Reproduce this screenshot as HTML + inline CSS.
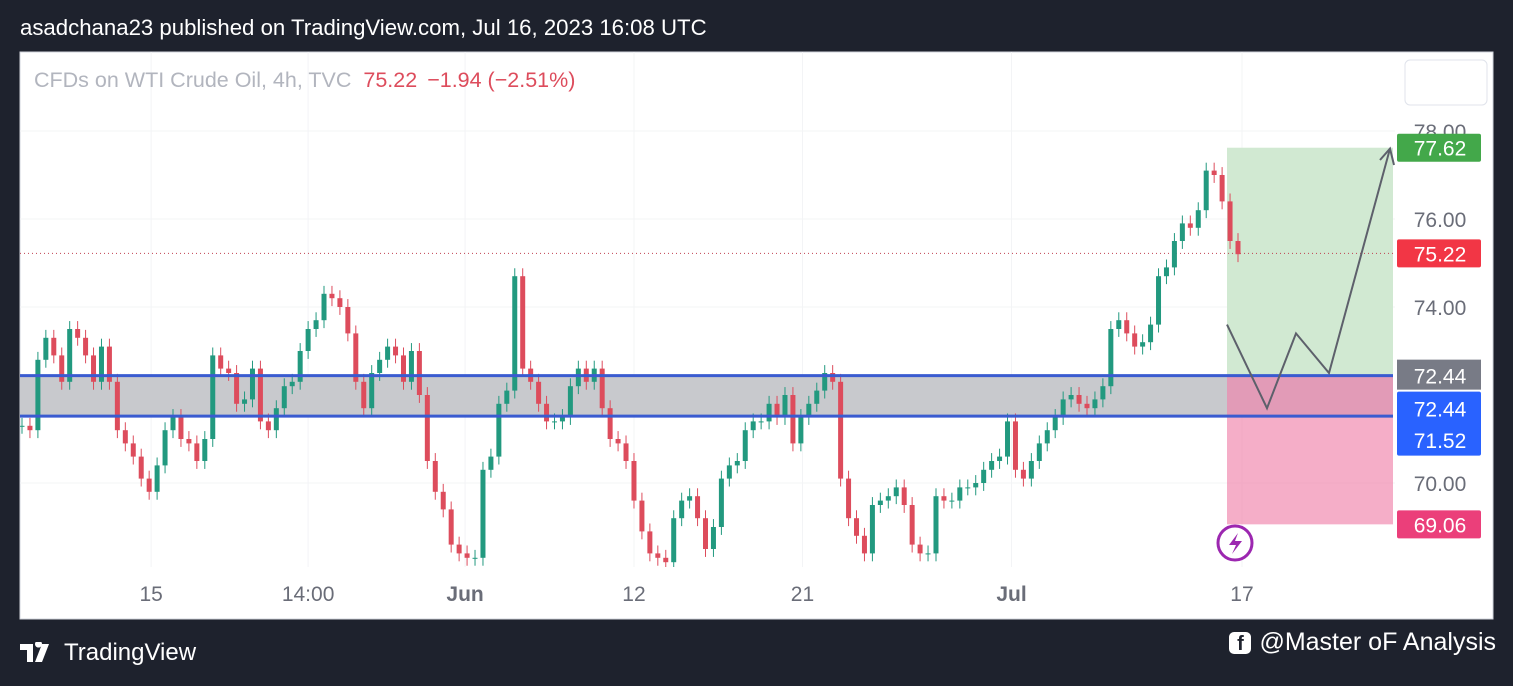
<!DOCTYPE html>
<html><head><meta charset="utf-8"><style>
body{margin:0;width:1513px;height:686px;background:#1e222d;overflow:hidden;font-family:"Liberation Sans",sans-serif}
#hdr{position:absolute;left:20px;top:15px;color:#fff;font-size:22.2px}
#ftr-l{position:absolute;left:20px;top:639px;color:#fff;font-size:24px;display:flex;align-items:center;gap:8px}
#ftr-r{position:absolute;right:17px;top:628px;color:#fff;font-size:25px;display:flex;align-items:center;gap:8px}
svg{position:absolute;left:0;top:0}
</style></head><body>
<div id="hdr">asadchana23 published on TradingView.com, Jul 16, 2023 16:08 UTC</div>
<svg id="chart" width="1513" height="686"></svg>
<div id="ftr-l"><svg width="36" height="22" style="position:static" viewBox="0 0 36 22"><path d="M0 2h13v18H7V8H0z M15 2a3.5 3.5 0 1 1 0 .1z" fill="#fff"/><path d="M22 2h7l-7 18h-7z" fill="#fff"/></svg><span>TradingView</span></div>
<div id="ftr-r"><span style="display:inline-block;width:22px;height:22px;background:#fff;border-radius:5px;color:#1e222d;font-weight:bold;font-size:20px;text-align:center;line-height:24px">f</span><span>@Master oF Analysis</span></div>
<script>
const closes=[71.3,71.2,72.8,73.3,72.9,72.3,73.5,73.3,72.9,72.3,73.1,72.3,71.2,70.9,70.6,70.1,69.8,70.4,71.2,71.5,71.0,70.9,70.5,71.0,72.9,72.6,72.5,71.8,71.9,72.6,71.4,71.2,71.7,72.2,72.3,73.0,73.5,73.7,74.3,74.2,74.0,73.4,72.3,71.7,72.5,72.8,73.1,72.9,72.3,73.0,72.0,70.5,69.8,69.4,68.6,68.4,68.3,68.3,70.3,70.6,71.8,72.1,74.7,72.6,72.3,71.8,71.4,71.4,71.5,72.2,72.6,72.3,72.6,71.7,71.0,70.9,70.5,69.6,68.9,68.4,68.3,68.2,69.2,69.6,69.7,69.2,68.5,69.0,70.1,70.4,70.5,71.2,71.4,71.4,71.8,71.5,72.0,70.9,71.5,71.8,72.1,72.5,72.3,70.1,69.2,68.8,68.4,69.5,69.6,69.7,69.9,69.5,68.6,68.4,68.4,69.7,69.6,69.6,69.9,69.9,70.0,70.3,70.5,70.6,71.4,70.3,70.1,70.5,70.9,71.2,71.5,71.9,72.0,71.8,71.7,71.9,72.2,73.5,73.7,73.4,73.1,73.2,73.6,74.7,74.9,75.5,75.9,75.8,76.2,77.1,77.0,76.4,75.5,75.2];
const priceTicks=[78,76,74,70];
const timeLabels=["15","14:00","Jun","12","21","Jul","17"];
const timeIdx=[16.25,36,55.75,77,98.2,124.5,153.5];
const zoneTop=72.44, zoneBot=71.52, target=77.62, stop=69.06, last=75.22;
const pathPrices=[73.6,71.7,73.4,72.5,77.6];

const NS="http://www.w3.org/2000/svg";
const svg=document.getElementById('chart');
function el(t,a,p){const e=document.createElementNS(NS,t);for(const k in a)e.setAttribute(k,a[k]);(p||svg).appendChild(e);return e;}
const y=p=>219-(p-76)*44;
const x0=22,x1=1238;
const x=i=>x0+i*(x1-x0)/(closes.length-1);

let r=el('rect',{x:20,y:52,width:1473,height:567,fill:'#fff',stroke:'#d1d4dc'});


const clip=el('clipPath',{id:'pc'});el('rect',{x:20,y:52,width:1375,height:515},clip);
const g=el('g',{'clip-path':'url(#pc)'});
timeIdx.forEach(i=>el('line',{x1:x(i),x2:x(i),y1:52,y2:567,stroke:'#f3f4f6'},g));
priceTicks.forEach(p=>el('line',{x1:20,x2:1395,y1:y(p),y2:y(p),stroke:'#f3f4f6'},g));
let z=el('rect',{x:20,y:y(zoneTop),width:1373,height:y(zoneBot)-y(zoneTop),fill:'#c8c9cd'},g);


let tp=el('rect',{x:1227,y:y(target),width:166,height:y(zoneTop)-y(target),fill:'#d1e9d2'},g);


let sl=el('rect',{x:1227,y:y(zoneTop),width:166,height:y(stop)-y(zoneTop),fill:'rgba(240,130,170,0.65)'},g);


el('line',{x1:20,x2:1395,y1:y(last),y2:y(last),stroke:'#c04050','stroke-dasharray':'1 3'},g);
closes.forEach((c,i)=>{
  const o=i?closes[i-1]:c;const up=c>=o;const col=up?'#22997f':'#dd4c5c';
  const hi=Math.max(o,c)+0.18,lo=Math.min(o,c)-0.18;
  const cg=el('g',{},g);
  
  
  el('line',{x1:x(i),x2:x(i),y1:y(hi),y2:y(lo),stroke:col,'stroke-width':1},cg);
  el('rect',{x:x(i)-2.5,y:y(Math.max(o,c)),width:5,height:Math.max(1,Math.abs(y(o)-y(c))),fill:col},cg);
});
[zoneTop,zoneBot].forEach(p=>{const l=el('line',{x1:20,x2:1393,y1:y(p),y2:y(p),stroke:'#3a5bd0','stroke-width':3},g);

});
const px=[1227,1267,1296,1329,1390];
const pl=el('polyline',{points:px.map((v,i)=>v+','+y(pathPrices[i])).join(' '),fill:'none',stroke:'#5d606b','stroke-width':2});


el('polyline',{points:`1380,160 1390,${y(pathPrices[4])} 1394,165`,fill:'none',stroke:'#5d606b','stroke-width':2});
priceTicks.forEach(p=>{const t=el('text',{x:1440,y:y(p)+8,'font-size':21,fill:'#6a6d78','text-anchor':'middle'});t.textContent=p.toFixed(2);

});
function lab(p,col,nm){const gg=el('g',{});
 el('rect',{x:1397,y:y(p)-14,width:84,height:28,rx:2,fill:col},gg);
 const t=el('text',{x:1440,y:y(p)+8,'font-size':21,fill:'#fff','text-anchor':'middle'},gg);t.textContent=p.toFixed(2);}
lab(target,'#43a84a','target-label');lab(last,'#f23645','last-price-label');
const gl=el('g',{});
el('rect',{x:1397,y:y(zoneTop)-16,width:84,height:30,fill:'#787b86'},gl);
let tt=el('text',{x:1440,y:y(zoneTop)+8,'font-size':21,fill:'#fff','text-anchor':'middle'},gl);tt.textContent=zoneTop.toFixed(2);
const gb=el('g',{});
el('rect',{x:1397,y:y(zoneTop)+16,width:84,height:64,rx:2,fill:'#2962ff'},gb);
tt=el('text',{x:1440,y:y(zoneTop)+41,'font-size':21,fill:'#fff','text-anchor':'middle'},gb);tt.textContent=zoneTop.toFixed(2);
tt=el('text',{x:1440,y:y(zoneBot)+32,'font-size':21,fill:'#fff','text-anchor':'middle'},gb);tt.textContent=zoneBot.toFixed(2);
lab(stop,'#eb3f7a','stop-label');
timeLabels.forEach((s,k)=>{const t=el('text',{x:x(timeIdx[k]),y:601,'font-size':21,fill:'#6a6d78','text-anchor':'middle','font-weight':(s=='Jun'||s=='Jul')?'bold':'normal'});t.textContent=s;

});
const lg=el('text',{x:34,y:87,'font-size':21.5,fill:'#b2b5be'});


lg.innerHTML='CFDs on WTI Crude Oil, 4h, TVC <tspan fill="#dd4c5c" dx="6">75.22</tspan><tspan fill="#dd4c5c" dx="10">−1.94 (−2.51%)</tspan>';
const bt=el('rect',{x:1405,y:60,width:82,height:45,rx:5,fill:'#fff',stroke:'#e0e3eb'});


const ic=el('g',{});
el('circle',{cx:1235,cy:543,r:17,fill:'#fff',stroke:'#9c27b0','stroke-width':3},ic);
el('path',{d:'M1238 533 L1229 545 L1236 545 L1232 554 L1242 541 L1235 541 Z',fill:'#9c27b0'},ic);
</script>
</body></html>
